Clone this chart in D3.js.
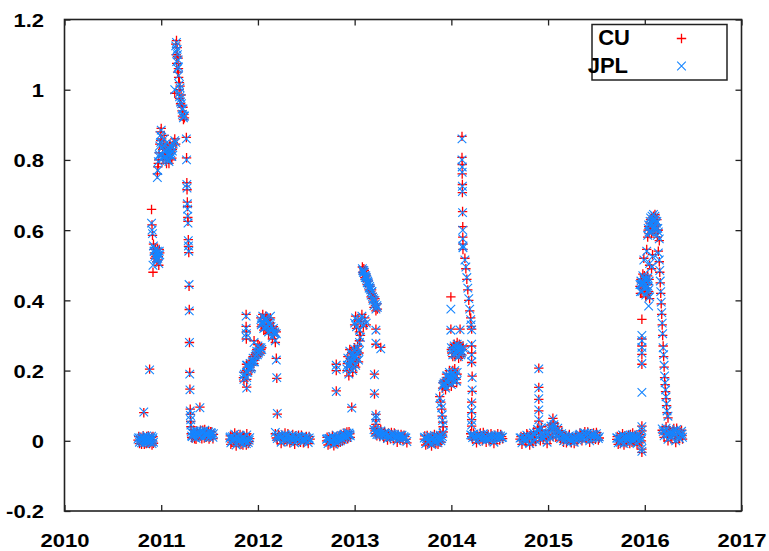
<!DOCTYPE html>
<html>
<head>
<meta charset="utf-8">
<script src="https://cdn.jsdelivr.net/npm/d3@7"></script>
<style>
  body { margin: 0; background: #fff; }
  text { font-family: "Liberation Sans", Arial, sans-serif; font-weight: bold; }
</style>
</head>
<body>
<svg id="chart" width="769" height="551"></svg>
<script>
// Axis ticks and labels
const xTicks = [2010, 2011, 2012, 2013, 2014, 2015, 2016, 2017];
const xTickLabels = ["2010", "2011", "2012", "2013", "2014", "2015", "2016", "2017"];
const yTicks = [-0.2, 0, 0.2, 0.4, 0.6, 0.8, 1, 1.2];
const yTickLabels = ["-0.2", "0", "0.2", "0.4", "0.6", "0.8", "1", "1.2"];
const seriesNames = ["CU", "JPL"];

// CU series: [decimal year, value]
const cuPoints = [
  // autumn 2010 - spring 2011
  [2010.76,0.002],[2010.775,-0.008],[2010.79,0.010],[2010.80,-0.002],[2010.81,0.006],[2010.82,0.080],[2010.825,-0.010],[2010.84,0.004],[2010.85,0.012],[2010.86,-0.006],[2010.875,0.008],[2010.88,0.204],[2010.885,-0.004],[2010.90,0.010],[2010.91,0.000],[2010.92,-0.007],
  [2010.768,0.012],[2010.783,0.0],[2010.797,-0.01],[2010.815,0.014],[2010.832,0.006],[2010.845,-0.008],[2010.855,0.002],[2010.868,0.014],[2010.88,-0.008],[2010.895,0.004],[2010.905,-0.012],[2010.915,0.012],
  [2010.90,0.659],[2010.905,0.615],[2010.91,0.585],[2010.915,0.48],[2010.92,0.56],[2010.93,0.535],[2010.935,0.52],[2010.94,0.55],[2010.95,0.53],[2010.955,0.51],[2010.96,0.545],[2010.97,0.525],[2010.975,0.50],[2010.985,0.535],
  [2010.925,0.545],[2010.945,0.525],[2010.965,0.515],[2010.98,0.545],
  [2010.96,0.76],[2010.965,0.78],[2010.975,0.80],[2010.985,0.845],[2010.99,0.88],[2011.0,0.89],[2011.005,0.86],[2011.015,0.83],[2011.02,0.80],[2011.03,0.87],[2011.04,0.84],[2011.045,0.815],[2011.055,0.79],[2011.065,0.82],[2011.075,0.805],[2011.085,0.835],[2011.095,0.82],[2011.105,0.80],[2011.115,0.83],[2011.125,0.85],[2011.14,0.86],[2011.15,0.845],
  [2010.97,0.79],[2010.98,0.82],[2010.995,0.855],[2011.01,0.81],[2011.025,0.845],[2011.035,0.82],[2011.05,0.80],[2011.06,0.835],[2011.07,0.81],[2011.08,0.79],[2011.09,0.845],[2011.10,0.825],[2011.11,0.805],[2011.12,0.84],
  [2011.14,0.99],[2011.15,1.13],[2011.155,1.10],[2011.16,1.075],[2011.165,1.12],[2011.17,1.05],[2011.175,1.09],[2011.18,1.035],[2011.185,1.00],[2011.19,0.975],[2011.195,1.01],[2011.20,0.96],[2011.205,0.985],[2011.215,0.94],[2011.22,0.925],[2011.225,0.95],[2011.23,0.915],
  [2011.158,1.14],[2011.168,1.095],[2011.178,1.06],[2011.188,1.02],[2011.21,0.955],[2011.235,0.93],[2011.24,0.92],
  [2011.26,0.864],[2011.262,0.806],[2011.265,0.735],[2011.267,0.715],[2011.27,0.68],[2011.272,0.667],[2011.275,0.636],[2011.277,0.625],[2011.28,0.573],[2011.282,0.554],[2011.285,0.536],[2011.288,0.44],[2011.29,0.374],[2011.292,0.28],[2011.295,0.195],[2011.297,0.147],[2011.30,0.09],[2011.302,0.075],[2011.305,0.055],[2011.307,0.04],[2011.40,0.096],
  [2011.31,0.02],[2011.32,0.008],[2011.335,0.03],[2011.35,0.015],[2011.36,0.004],[2011.375,0.025],[2011.39,0.012],[2011.405,0.03],[2011.42,0.006],[2011.435,0.02],[2011.45,0.032],[2011.465,0.01],[2011.48,0.022],[2011.495,0.005],[2011.51,0.026],[2011.525,0.014],[2011.54,0.018],
  [2011.315,0.01],[2011.33,0.018],[2011.345,0.006],[2011.365,0.028],[2011.385,0.02],[2011.41,0.014],[2011.43,0.03],[2011.445,0.008],[2011.46,0.024],[2011.475,0.012],[2011.49,0.028],[2011.505,0.01],[2011.52,0.025],[2011.535,0.006],
  // autumn 2011 - spring 2012
  [2011.71,0.005],[2011.72,-0.01],[2011.735,0.015],[2011.75,-0.003],[2011.76,0.022],[2011.775,-0.015],[2011.79,0.008],[2011.80,-0.006],[2011.815,0.018],[2011.83,0.0],[2011.845,-0.012],[2011.855,0.012],[2011.87,-0.004],[2011.885,0.02],[2011.90,-0.008],[2011.915,0.006],
  [2011.715,0.014],[2011.73,-0.004],[2011.745,0.01],[2011.765,0.002],[2011.785,0.016],[2011.805,0.008],[2011.825,-0.01],[2011.84,0.014],[2011.865,0.006],[2011.88,-0.012],[2011.895,0.008],[2011.91,-0.002],
  [2011.878,0.36],[2011.878,0.326],[2011.88,0.31],[2011.88,0.29],[2011.882,0.218],[2011.882,0.2],[2011.884,0.175],[2011.884,0.153],
  [2011.85,0.18],[2011.86,0.195],[2011.89,0.21],[2011.905,0.2],[2011.92,0.225],[2011.935,0.215],[2011.95,0.24],[2011.96,0.285],[2011.965,0.23],[2011.98,0.25],[2011.995,0.24],[2012.0,0.275],[2012.01,0.26],[2012.025,0.25],[2012.04,0.265],
  [2011.855,0.17],[2011.895,0.19],[2011.912,0.215],[2011.928,0.2],[2011.942,0.23],[2011.958,0.22],[2011.972,0.245],[2011.988,0.26],[2012.005,0.245],[2012.018,0.27],[2012.032,0.26],
  [2012.03,0.35],[2012.04,0.33],[2012.05,0.36],[2012.06,0.315],[2012.07,0.34],[2012.08,0.355],[2012.09,0.32],[2012.10,0.345],[2012.11,0.305],[2012.12,0.335],[2012.13,0.35],[2012.14,0.31],[2012.15,0.29],[2012.16,0.325],[2012.17,0.30],[2012.18,0.28],[2012.19,0.31],[2012.19,0.235],[2012.195,0.178],[2012.2,0.076],
  [2012.035,0.325],[2012.055,0.34],[2012.075,0.32],[2012.095,0.35],[2012.115,0.33],[2012.135,0.32],[2012.155,0.305],[2012.175,0.315],
  [2012.18,0.02],[2012.20,0.002],[2012.22,0.015],[2012.24,-0.008],[2012.26,0.01],[2012.28,0.022],[2012.30,-0.002],[2012.32,0.012],[2012.34,0.004],[2012.36,0.018],[2012.38,-0.01],[2012.40,0.008],[2012.42,0.016],[2012.44,-0.004],[2012.46,0.01],[2012.48,0.0],[2012.50,0.012],[2012.52,-0.008],[2012.54,0.005],
  [2012.19,0.008],[2012.21,0.018],[2012.23,0.004],[2012.25,0.016],[2012.27,-0.002],[2012.29,0.01],[2012.31,0.02],[2012.33,-0.006],[2012.35,0.006],[2012.37,0.0],[2012.39,0.014],[2012.41,-0.002],[2012.43,0.006],[2012.45,0.016],[2012.47,-0.006],[2012.49,0.008],[2012.51,0.002],[2012.53,0.012],
  // autumn 2012 - spring 2013
  [2012.71,0.0],[2012.725,-0.012],[2012.74,0.01],[2012.755,-0.005],[2012.77,0.015],[2012.785,-0.014],[2012.80,0.005],[2012.815,0.012],[2012.83,-0.006],[2012.845,0.008],[2012.86,0.018],[2012.875,0.0],[2012.89,0.022],[2012.905,0.01],[2012.92,0.025],[2012.935,0.012],[2012.95,0.02],[2012.81,0.218],[2012.81,0.2],[2012.81,0.142],[2012.97,0.096],
  [2012.715,0.01],[2012.732,0.002],[2012.748,-0.008],[2012.762,0.006],[2012.778,0.002],[2012.792,0.008],[2012.808,-0.008],[2012.822,0.004],[2012.838,0.014],[2012.852,-0.004],[2012.868,0.01],[2012.882,0.012],[2012.898,0.004],[2012.912,0.018],[2012.928,0.006],[2012.942,0.026],[2012.955,0.01],
  [2012.92,0.2],[2012.93,0.24],[2012.94,0.185],[2012.95,0.26],[2012.96,0.215],[2012.97,0.25],[2012.98,0.195],[2012.99,0.23],[2013.0,0.265],[2013.01,0.21],[2013.02,0.245],[2013.03,0.27],[2013.04,0.225],[2013.05,0.285],[2013.06,0.30],
  [2012.925,0.22],[2012.945,0.21],[2012.955,0.235],[2012.975,0.225],[2012.985,0.215],[2012.995,0.25],[2013.015,0.235],[2013.025,0.255],[2013.045,0.25],
  [2013.0,0.33],[2013.01,0.355],[2013.02,0.32],[2013.035,0.345],[2013.05,0.31],[2013.06,0.34],[2013.075,0.36],[2013.09,0.325],[2013.105,0.35],[2013.12,0.33],
  [2013.08,0.495],[2013.09,0.475],[2013.10,0.485],[2013.11,0.46],[2013.12,0.47],[2013.13,0.445],[2013.14,0.455],[2013.15,0.43],[2013.16,0.44],[2013.17,0.41],[2013.18,0.42],[2013.19,0.395],[2013.20,0.38],[2013.21,0.405],[2013.22,0.37],[2013.23,0.39],[2013.22,0.318],[2013.22,0.275],[2013.27,0.266],[2013.205,0.19],[2013.205,0.133],[2013.22,0.075],[2013.22,0.06],[2013.22,0.047],
  [2013.085,0.48],[2013.095,0.49],[2013.105,0.465],[2013.115,0.475],[2013.125,0.455],[2013.135,0.46],[2013.145,0.44],[2013.155,0.445],[2013.165,0.425],[2013.175,0.43],[2013.185,0.405],[2013.195,0.41],[2013.215,0.385],[2013.235,0.375],
  [2013.2,0.035],[2013.22,0.02],[2013.24,0.03],[2013.26,0.012],[2013.28,0.025],[2013.30,0.008],[2013.32,0.018],[2013.34,0.002],[2013.36,0.015],[2013.38,0.024],[2013.40,0.006],[2013.42,0.016],[2013.44,-0.004],[2013.46,0.01],[2013.48,0.018],[2013.50,0.002],[2013.52,0.012],[2013.54,-0.006],
  [2013.21,0.028],[2013.23,0.014],[2013.25,0.022],[2013.27,0.032],[2013.29,0.014],[2013.31,0.026],[2013.33,0.01],[2013.35,0.022],[2013.37,0.006],[2013.39,0.014],[2013.41,0.022],[2013.43,0.008],[2013.45,0.018],[2013.47,0.002],[2013.49,0.012],[2013.51,0.016],[2013.53,0.004],
  // autumn 2013 - spring 2014
  [2013.72,0.005],[2013.735,-0.012],[2013.75,0.015],[2013.765,-0.004],[2013.78,0.01],[2013.795,-0.015],[2013.81,0.002],[2013.825,0.018],[2013.84,-0.008],[2013.855,0.008],[2013.87,-0.002],[2013.885,0.02],[2013.90,0.01],[2013.915,0.025],
  [2013.725,0.014],[2013.742,0.002],[2013.758,-0.008],[2013.772,0.006],[2013.788,0.0],[2013.802,0.012],[2013.818,-0.006],[2013.832,0.008],[2013.848,0.014],[2013.862,-0.01],[2013.878,0.006],[2013.892,-0.004],[2013.908,0.016],
  [2013.88,0.126],[2013.89,0.11],[2013.9,0.09],[2013.905,0.07],[2013.91,0.053],[2013.915,0.04],
  [2013.91,0.15],[2013.925,0.17],[2013.94,0.145],[2013.95,0.19],[2013.965,0.16],[2013.98,0.2],[2013.99,0.175],[2014.0,0.155],[2014.01,0.185],[2014.02,0.165],[2014.035,0.205],[2014.05,0.175],[2014.06,0.19],
  [2013.915,0.165],[2013.93,0.155],[2013.945,0.175],[2013.96,0.18],[2013.975,0.17],[2013.985,0.19],[2014.005,0.17],[2014.015,0.2],[2014.03,0.18],[2014.045,0.19],[2014.055,0.165],
  [2013.995,0.318],[2013.995,0.41],[2014.09,0.318],
  [2014.0,0.26],[2014.015,0.24],[2014.03,0.275],[2014.045,0.25],[2014.06,0.28],[2014.075,0.235],[2014.09,0.265],[2014.105,0.245],[2014.12,0.27],
  [2014.005,0.25],[2014.022,0.265],[2014.038,0.24],[2014.052,0.27],[2014.068,0.255],[2014.082,0.275],[2014.098,0.24],[2014.112,0.26],
  [2014.11,0.867],[2014.11,0.807],[2014.112,0.787],[2014.112,0.76],[2014.114,0.73],[2014.114,0.707],[2014.116,0.653],[2014.118,0.61],[2014.118,0.58],[2014.12,0.56],[2014.12,0.545],
  [2014.14,0.52],[2014.15,0.49],[2014.16,0.46],[2014.17,0.43],[2014.18,0.40],[2014.19,0.37],[2014.2,0.35],[2014.205,0.326],[2014.21,0.318],[2014.21,0.27],[2014.21,0.25],[2014.21,0.223],[2014.215,0.184],[2014.215,0.141],[2014.21,0.11],[2014.21,0.08],[2014.21,0.06],[2014.21,0.042],
  [2014.2,0.02],[2014.22,0.005],[2014.24,0.015],[2014.26,-0.006],[2014.28,0.01],[2014.30,0.022],[2014.32,0.0],[2014.34,0.012],[2014.36,-0.004],[2014.38,0.018],[2014.40,0.006],[2014.42,0.014],[2014.44,-0.008],[2014.46,0.01],[2014.48,0.02],[2014.50,0.002],[2014.52,0.012],
  [2014.21,0.012],[2014.23,0.022],[2014.25,0.004],[2014.27,0.018],[2014.29,0.002],[2014.31,0.014],[2014.33,0.024],[2014.35,0.006],[2014.37,0.01],[2014.39,0.0],[2014.41,0.02],[2014.43,0.004],[2014.45,0.016],[2014.47,0.002],[2014.49,0.01],[2014.51,0.018],[2014.53,0.006],
  // autumn 2014 - summer 2015
  [2014.71,0.005],[2014.73,-0.01],[2014.75,0.012],[2014.77,-0.004],[2014.79,0.016],[2014.81,-0.012],[2014.83,0.008],[2014.85,0.025],[2014.87,-0.002],[2014.89,0.035],[2014.91,0.01],[2014.93,0.04],[2014.95,0.005],[2014.97,0.02],[2014.99,-0.008],[2015.01,0.03],[2015.03,0.045],[2015.05,0.012],[2015.07,0.035],[2015.09,0.02],[2015.11,0.028],[2015.13,0.002],[2015.15,0.018],[2015.17,0.008],[2015.19,-0.006],[2015.21,0.012],[2015.23,0.0],[2015.25,0.01],[2015.27,-0.008],[2015.29,0.015],[2015.31,0.005],[2015.33,0.022],[2015.35,0.0],[2015.37,0.018],[2015.39,0.008],[2015.41,0.025],[2015.43,-0.004],[2015.45,0.014],[2015.47,0.022],[2015.49,0.004],[2015.51,0.016],[2015.53,0.008],
  [2014.72,0.012],[2014.74,0.0],[2014.76,0.006],[2014.78,0.02],[2014.80,0.004],[2014.82,0.016],[2014.84,-0.006],[2014.86,0.012],[2014.88,0.018],[2014.90,0.026],[2014.92,0.0],[2014.94,0.028],[2014.96,0.014],[2014.98,0.008],[2015.00,0.016],[2015.02,0.006],[2015.04,0.03],[2015.06,0.05],[2015.08,0.01],[2015.10,0.04],[2015.12,0.014],[2015.14,0.024],[2015.16,-0.004],[2015.18,0.014],[2015.20,0.004],[2015.22,0.018],[2015.24,-0.006],[2015.26,0.004],[2015.28,0.01],[2015.30,-0.002],[2015.32,0.012],[2015.34,0.016],[2015.36,0.008],[2015.38,0.026],[2015.40,0.012],[2015.42,0.006],[2015.44,0.02],[2015.46,0.004],[2015.48,0.012],[2015.50,0.024],[2015.52,0.002],
  [2014.904,0.207],[2014.904,0.152],[2014.904,0.118],[2014.904,0.085],[2014.904,0.056],[2015.05,0.064],
  // autumn 2015 - spring 2016
  [2015.71,0.004],[2015.725,-0.01],[2015.74,0.014],[2015.755,-0.003],[2015.77,0.02],[2015.785,-0.012],[2015.80,0.008],[2015.815,0.0],[2015.83,0.016],[2015.845,-0.008],[2015.86,0.01],[2015.875,0.022],[2015.89,-0.002],[2015.905,0.012],[2015.92,-0.012],[2015.935,0.006],[2015.95,0.018],[2015.965,0.0],
  [2015.715,0.012],[2015.732,0.002],[2015.748,-0.008],[2015.762,0.01],[2015.778,0.004],[2015.792,0.014],[2015.808,-0.006],[2015.822,0.008],[2015.838,0.002],[2015.852,0.018],[2015.868,-0.004],[2015.882,0.008],[2015.898,0.016],[2015.912,0.002],[2015.928,0.012],[2015.942,-0.006],[2015.958,0.01],
  [2015.97,0.042],[2015.97,0.028],[2015.97,-0.024],[2015.97,-0.033],
  [2015.97,0.346],[2015.97,0.29],[2015.97,0.27],[2015.97,0.246],[2015.97,0.218],
  [2015.95,0.44],[2015.96,0.46],[2015.97,0.42],[2015.98,0.475],[2015.99,0.435],[2016.0,0.455],[2016.01,0.41],[2016.02,0.445],[2016.03,0.47],[2016.04,0.425],[2016.05,0.405],
  [2015.955,0.42],[2015.965,0.45],[2015.975,0.44],[2015.985,0.455],[2015.995,0.47],[2016.005,0.43],[2016.015,0.46],[2016.025,0.42],[2016.035,0.445],[2016.045,0.46],
  [2015.99,0.52],[2016.02,0.545],[2016.05,0.5],[2016.08,0.53],[2016.07,0.49],
  [2016.03,0.58],[2016.04,0.61],[2016.05,0.6],[2016.06,0.63],[2016.07,0.59],[2016.08,0.62],[2016.09,0.64],[2016.10,0.605],[2016.11,0.635],[2016.12,0.615],[2016.13,0.58],[2016.14,0.6],[2016.15,0.57],
  [2016.035,0.6],[2016.045,0.59],[2016.055,0.62],[2016.065,0.61],[2016.075,0.635],[2016.085,0.6],[2016.095,0.625],[2016.105,0.645],[2016.115,0.6],[2016.125,0.63],[2016.135,0.6],
  [2016.14,0.54],[2016.15,0.51],[2016.155,0.48],[2016.16,0.45],[2016.165,0.42],[2016.17,0.39],[2016.175,0.36],[2016.18,0.33],[2016.185,0.30],[2016.19,0.27],[2016.195,0.24],[2016.2,0.21],[2016.205,0.18],[2016.21,0.16],[2016.215,0.14],[2016.22,0.12],[2016.225,0.10],[2016.23,0.08],[2016.24,0.065],
  [2016.18,0.03],[2016.2,0.01],[2016.22,0.04],[2016.24,0.0],[2016.26,0.025],[2016.28,0.015],[2016.30,0.035],[2016.32,-0.005],[2016.34,0.02],[2016.36,0.01],[2016.38,0.03],[2016.39,0.005],
  [2016.19,0.022],[2016.21,0.032],[2016.23,0.012],[2016.25,0.03],[2016.27,0.006],[2016.29,0.028],[2016.31,0.012],[2016.33,0.036],[2016.35,0.006],[2016.37,0.022],[2016.385,0.015]
];

// JPL series: [decimal year, value]
const jplPoints = [
  // autumn 2010 - spring 2011
  [2010.76,0.005],[2010.775,-0.004],[2010.79,0.008],[2010.80,0.001],[2010.81,0.009],[2010.82,0.082],[2010.825,-0.006],[2010.84,0.002],[2010.85,0.014],[2010.86,-0.003],[2010.875,0.005],[2010.88,0.202],[2010.885,0.000],[2010.90,0.013],[2010.91,0.004],[2010.92,-0.004],
  [2010.768,0.009],[2010.783,0.004],[2010.797,-0.006],[2010.815,0.011],[2010.832,0.002],[2010.845,-0.004],[2010.855,0.006],[2010.868,0.01],[2010.88,-0.004],[2010.895,0.008],[2010.905,-0.008],[2010.915,0.009],
  [2010.90,0.62],[2010.905,0.60],[2010.91,0.59],[2010.915,0.50],[2010.92,0.555],[2010.93,0.54],[2010.935,0.525],[2010.94,0.545],[2010.95,0.52],[2010.955,0.515],[2010.96,0.54],[2010.97,0.53],[2010.975,0.505],[2010.985,0.53],
  [2010.925,0.54],[2010.945,0.53],[2010.965,0.52],[2010.98,0.54],
  [2010.96,0.75],[2010.965,0.77],[2010.975,0.81],[2010.985,0.84],[2010.99,0.87],[2011.0,0.885],[2011.005,0.865],[2011.015,0.835],[2011.02,0.805],[2011.03,0.86],[2011.04,0.845],[2011.045,0.81],[2011.055,0.80],[2011.065,0.83],[2011.075,0.80],[2011.085,0.83],[2011.095,0.815],[2011.105,0.81],[2011.115,0.825],[2011.125,0.845],[2011.14,0.855],[2011.15,0.85],
  [2010.97,0.795],[2010.98,0.815],[2010.995,0.85],[2011.01,0.815],[2011.025,0.84],[2011.035,0.825],[2011.05,0.805],[2011.06,0.83],[2011.07,0.815],[2011.08,0.795],[2011.09,0.84],[2011.10,0.82],[2011.11,0.81],[2011.12,0.835],
  [2011.14,1.0],[2011.15,1.125],[2011.155,1.11],[2011.16,1.08],[2011.165,1.115],[2011.17,1.06],[2011.175,1.085],[2011.18,1.04],[2011.185,0.99],[2011.19,0.98],[2011.195,1.005],[2011.20,0.965],[2011.205,0.975],[2011.215,0.945],[2011.22,0.93],[2011.225,0.945],[2011.23,0.92],
  [2011.158,1.135],[2011.168,1.1],[2011.178,1.065],[2011.188,1.015],[2011.21,0.96],[2011.235,0.925],[2011.24,0.925],
  [2011.26,0.86],[2011.262,0.80],[2011.265,0.73],[2011.267,0.72],[2011.27,0.675],[2011.272,0.66],[2011.275,0.64],[2011.277,0.62],[2011.28,0.57],[2011.282,0.555],[2011.285,0.54],[2011.288,0.445],[2011.29,0.37],[2011.292,0.28],[2011.295,0.19],[2011.297,0.145],[2011.30,0.085],[2011.302,0.072],[2011.305,0.06],[2011.307,0.045],[2011.40,0.094],
  [2011.31,0.025],[2011.32,0.012],[2011.335,0.028],[2011.35,0.018],[2011.36,0.007],[2011.375,0.022],[2011.39,0.016],[2011.405,0.027],[2011.42,0.01],[2011.435,0.024],[2011.45,0.03],[2011.465,0.014],[2011.48,0.018],[2011.495,0.009],[2011.51,0.023],[2011.525,0.017],[2011.54,0.02],
  [2011.315,0.014],[2011.33,0.022],[2011.345,0.01],[2011.365,0.025],[2011.385,0.016],[2011.41,0.018],[2011.43,0.027],[2011.445,0.012],[2011.46,0.02],[2011.475,0.016],[2011.49,0.025],[2011.505,0.014],[2011.52,0.022],[2011.535,0.01],
  // autumn 2011 - spring 2012
  [2011.71,0.008],[2011.72,-0.006],[2011.735,0.012],[2011.75,0.001],[2011.76,0.019],[2011.775,-0.012],[2011.79,0.011],[2011.80,-0.002],[2011.815,0.015],[2011.83,0.004],[2011.845,-0.008],[2011.855,0.01],[2011.87,0.0],[2011.885,0.017],[2011.90,-0.005],[2011.915,0.009],
  [2011.715,0.011],[2011.73,0.0],[2011.745,0.007],[2011.765,0.006],[2011.785,0.012],[2011.805,0.004],[2011.825,-0.006],[2011.84,0.01],[2011.865,0.002],[2011.88,-0.008],[2011.895,0.004],[2011.91,0.002],
  [2011.878,0.355],[2011.878,0.32],[2011.88,0.305],[2011.88,0.295],[2011.882,0.215],[2011.882,0.195],[2011.884,0.18],[2011.884,0.15],
  [2011.85,0.185],[2011.86,0.19],[2011.89,0.215],[2011.905,0.205],[2011.92,0.22],[2011.935,0.21],[2011.95,0.235],[2011.96,0.28],[2011.965,0.225],[2011.98,0.245],[2011.995,0.245],[2012.0,0.27],[2012.01,0.255],[2012.025,0.255],[2012.04,0.26],
  [2011.855,0.175],[2011.895,0.195],[2011.912,0.21],[2011.928,0.205],[2011.942,0.225],[2011.958,0.225],[2011.972,0.24],[2011.988,0.255],[2012.005,0.25],[2012.018,0.265],[2012.032,0.265],
  [2012.03,0.345],[2012.04,0.335],[2012.05,0.355],[2012.06,0.32],[2012.07,0.345],[2012.08,0.35],[2012.09,0.325],[2012.10,0.34],[2012.11,0.31],[2012.12,0.33],[2012.13,0.355],[2012.14,0.315],[2012.15,0.295],[2012.16,0.32],[2012.17,0.305],[2012.18,0.285],[2012.19,0.305],[2012.19,0.23],[2012.195,0.18],[2012.2,0.078],
  [2012.035,0.33],[2012.055,0.335],[2012.075,0.325],[2012.095,0.345],[2012.115,0.335],[2012.135,0.325],[2012.155,0.31],[2012.175,0.31],
  [2012.18,0.024],[2012.20,0.006],[2012.22,0.012],[2012.24,-0.004],[2012.26,0.014],[2012.28,0.018],[2012.30,0.002],[2012.32,0.009],[2012.34,0.008],[2012.36,0.015],[2012.38,-0.006],[2012.40,0.011],[2012.42,0.013],[2012.44,0.0],[2012.46,0.006],[2012.48,0.004],[2012.50,0.009],[2012.52,-0.005],[2012.54,0.002],
  [2012.19,0.012],[2012.21,0.014],[2012.23,0.008],[2012.25,0.012],[2012.27,0.002],[2012.29,0.014],[2012.31,0.016],[2012.33,-0.002],[2012.35,0.01],[2012.37,0.004],[2012.39,0.01],[2012.41,0.002],[2012.43,0.01],[2012.45,0.012],[2012.47,-0.002],[2012.49,0.012],[2012.51,0.006],[2012.53,0.008],
  // autumn 2012 - spring 2013
  [2012.71,0.004],[2012.725,-0.008],[2012.74,0.007],[2012.755,-0.002],[2012.77,0.012],[2012.785,-0.01],[2012.80,0.008],[2012.815,0.015],[2012.83,-0.002],[2012.845,0.011],[2012.86,0.015],[2012.875,0.004],[2012.89,0.019],[2012.905,0.013],[2012.92,0.022],[2012.935,0.016],[2012.95,0.018],[2012.81,0.215],[2012.81,0.203],[2012.81,0.14],[2012.97,0.093],
  [2012.715,0.006],[2012.732,0.006],[2012.748,-0.004],[2012.762,0.002],[2012.778,0.006],[2012.792,0.004],[2012.808,-0.004],[2012.822,0.008],[2012.838,0.01],[2012.852,0.0],[2012.868,0.006],[2012.882,0.016],[2012.898,0.008],[2012.912,0.014],[2012.928,0.01],[2012.942,0.022],[2012.955,0.014],
  [2012.92,0.205],[2012.93,0.235],[2012.94,0.19],[2012.95,0.255],[2012.96,0.22],[2012.97,0.245],[2012.98,0.2],[2012.99,0.235],[2013.0,0.26],[2013.01,0.215],[2013.02,0.24],[2013.03,0.265],[2013.04,0.23],[2013.05,0.28],[2013.06,0.295],
  [2012.925,0.215],[2012.945,0.215],[2012.955,0.23],[2012.975,0.23],[2012.985,0.21],[2012.995,0.245],[2013.015,0.24],[2013.025,0.25],[2013.045,0.255],
  [2013.0,0.335],[2013.01,0.35],[2013.02,0.325],[2013.035,0.34],[2013.05,0.315],[2013.06,0.345],[2013.075,0.355],[2013.09,0.33],[2013.105,0.345],[2013.12,0.335],
  [2013.08,0.49],[2013.09,0.48],[2013.10,0.48],[2013.11,0.465],[2013.12,0.465],[2013.13,0.45],[2013.14,0.45],[2013.15,0.435],[2013.16,0.435],[2013.17,0.415],[2013.18,0.425],[2013.19,0.40],[2013.20,0.385],[2013.21,0.40],[2013.22,0.375],[2013.23,0.385],[2013.22,0.315],[2013.22,0.278],[2013.27,0.262],[2013.205,0.188],[2013.205,0.135],[2013.22,0.072],[2013.22,0.065],[2013.22,0.05],
  [2013.085,0.485],[2013.095,0.485],[2013.105,0.47],[2013.115,0.47],[2013.125,0.46],[2013.135,0.455],[2013.145,0.445],[2013.155,0.44],[2013.165,0.43],[2013.175,0.425],[2013.185,0.41],[2013.195,0.405],[2013.215,0.39],[2013.235,0.38],
  [2013.2,0.032],[2013.22,0.024],[2013.24,0.027],[2013.26,0.016],[2013.28,0.022],[2013.30,0.012],[2013.32,0.021],[2013.34,0.006],[2013.36,0.012],[2013.38,0.02],[2013.40,0.01],[2013.42,0.013],[2013.44,0.0],[2013.46,0.014],[2013.48,0.015],[2013.50,0.006],[2013.52,0.009],[2013.54,-0.002],
  [2013.21,0.024],[2013.23,0.018],[2013.25,0.018],[2013.27,0.028],[2013.29,0.018],[2013.31,0.022],[2013.33,0.014],[2013.35,0.018],[2013.37,0.01],[2013.39,0.018],[2013.41,0.018],[2013.43,0.012],[2013.45,0.014],[2013.47,0.006],[2013.49,0.016],[2013.51,0.012],[2013.53,0.008],
  // autumn 2013 - spring 2014
  [2013.72,0.008],[2013.735,-0.008],[2013.75,0.012],[2013.765,0.0],[2013.78,0.013],[2013.795,-0.011],[2013.81,0.006],[2013.825,0.015],[2013.84,-0.004],[2013.855,0.011],[2013.87,0.002],[2013.885,0.016],[2013.90,0.006],[2013.915,0.022],
  [2013.725,0.01],[2013.742,0.006],[2013.758,-0.004],[2013.772,0.002],[2013.788,0.004],[2013.802,0.008],[2013.818,-0.002],[2013.832,0.004],[2013.848,0.01],[2013.862,-0.006],[2013.878,0.01],[2013.892,0.0],[2013.908,0.012],
  [2013.88,0.122],[2013.89,0.106],[2013.9,0.094],[2013.905,0.074],[2013.91,0.058],[2013.915,0.045],
  [2013.91,0.155],[2013.925,0.165],[2013.94,0.15],[2013.95,0.185],[2013.965,0.165],[2013.98,0.195],[2013.99,0.18],[2014.0,0.16],[2014.01,0.19],[2014.02,0.17],[2014.035,0.2],[2014.05,0.17],[2014.06,0.195],
  [2013.915,0.16],[2013.93,0.16],[2013.945,0.17],[2013.96,0.185],[2013.975,0.175],[2013.985,0.185],[2014.005,0.175],[2014.015,0.195],[2014.03,0.185],[2014.045,0.185],[2014.055,0.17],
  [2013.995,0.315],[2013.995,0.375],[2014.09,0.316],
  [2014.0,0.265],[2014.015,0.245],[2014.03,0.27],[2014.045,0.255],[2014.06,0.275],[2014.075,0.24],[2014.09,0.26],[2014.105,0.25],[2014.12,0.265],
  [2014.005,0.255],[2014.022,0.26],[2014.038,0.245],[2014.052,0.265],[2014.068,0.26],[2014.082,0.27],[2014.098,0.245],[2014.112,0.255],
  [2014.11,0.86],[2014.11,0.80],[2014.112,0.78],[2014.112,0.765],[2014.114,0.725],[2014.114,0.71],[2014.116,0.65],[2014.118,0.60],[2014.118,0.575],[2014.12,0.555],[2014.12,0.55],
  [2014.14,0.515],[2014.15,0.495],[2014.16,0.465],[2014.17,0.435],[2014.18,0.405],[2014.19,0.375],[2014.2,0.345],[2014.205,0.33],[2014.21,0.316],[2014.21,0.275],[2014.21,0.245],[2014.21,0.225],[2014.215,0.18],[2014.215,0.145],[2014.21,0.108],[2014.21,0.085],[2014.21,0.058],[2014.21,0.045],
  [2014.2,0.017],[2014.22,0.009],[2014.24,0.012],[2014.26,-0.002],[2014.28,0.014],[2014.30,0.018],[2014.32,0.004],[2014.34,0.009],[2014.36,0.0],[2014.38,0.015],[2014.40,0.01],[2014.42,0.011],[2014.44,-0.004],[2014.46,0.013],[2014.48,0.017],[2014.50,0.006],[2014.52,0.009],
  [2014.21,0.016],[2014.23,0.018],[2014.25,0.008],[2014.27,0.014],[2014.29,0.006],[2014.31,0.01],[2014.33,0.02],[2014.35,0.01],[2014.37,0.006],[2014.39,0.004],[2014.41,0.016],[2014.43,0.008],[2014.45,0.012],[2014.47,0.006],[2014.49,0.014],[2014.51,0.014],[2014.53,0.01],
  // autumn 2014 - summer 2015
  [2014.71,0.008],[2014.73,-0.006],[2014.75,0.009],[2014.77,0.0],[2014.79,0.013],[2014.81,-0.008],[2014.83,0.012],[2014.85,0.022],[2014.87,0.002],[2014.89,0.032],[2014.91,0.014],[2014.93,0.037],[2014.95,0.009],[2014.97,0.024],[2014.99,-0.004],[2015.01,0.034],[2015.03,0.042],[2015.05,0.015],[2015.07,0.038],[2015.09,0.017],[2015.11,0.025],[2015.13,0.006],[2015.15,0.015],[2015.17,0.012],[2015.19,-0.002],[2015.21,0.009],[2015.23,0.004],[2015.25,0.014],[2015.27,-0.004],[2015.29,0.012],[2015.31,0.009],[2015.33,0.019],[2015.35,0.004],[2015.37,0.022],[2015.39,0.005],[2015.41,0.021],[2015.43,0.0],[2015.45,0.018],[2015.47,0.019],[2015.49,0.008],[2015.51,0.012],[2015.53,0.011],
  [2014.72,0.009],[2014.74,0.004],[2014.76,0.01],[2014.78,0.016],[2014.80,0.008],[2014.82,0.012],[2014.84,-0.002],[2014.86,0.016],[2014.88,0.022],[2014.90,0.03],[2014.92,0.004],[2014.94,0.024],[2014.96,0.018],[2014.98,0.012],[2015.00,0.02],[2015.02,0.01],[2015.04,0.034],[2015.06,0.046],[2015.08,0.014],[2015.10,0.036],[2015.12,0.018],[2015.14,0.02],[2015.16,0.0],[2015.18,0.01],[2015.20,0.008],[2015.22,0.014],[2015.24,-0.002],[2015.26,0.008],[2015.28,0.006],[2015.30,0.002],[2015.32,0.016],[2015.34,0.012],[2015.36,0.012],[2015.38,0.022],[2015.40,0.016],[2015.42,0.01],[2015.44,0.016],[2015.46,0.008],[2015.48,0.016],[2015.50,0.02],[2015.52,0.006],
  [2014.904,0.205],[2014.904,0.15],[2014.904,0.12],[2014.904,0.088],[2014.904,0.06],[2015.05,0.062],
  // autumn 2015 - spring 2016
  [2015.71,0.008],[2015.725,-0.006],[2015.74,0.011],[2015.755,0.001],[2015.77,0.017],[2015.785,-0.008],[2015.80,0.012],[2015.815,0.004],[2015.83,0.013],[2015.845,-0.004],[2015.86,0.014],[2015.875,0.018],[2015.89,0.002],[2015.905,0.009],[2015.92,-0.008],[2015.935,0.01],[2015.95,0.015],[2015.965,0.004],
  [2015.715,0.008],[2015.732,0.006],[2015.748,-0.004],[2015.762,0.006],[2015.778,0.008],[2015.792,0.01],[2015.808,-0.002],[2015.822,0.012],[2015.838,0.006],[2015.852,0.014],[2015.868,0.0],[2015.882,0.012],[2015.898,0.012],[2015.912,0.006],[2015.928,0.008],[2015.942,-0.002],[2015.958,0.006],
  [2015.97,0.04],[2015.97,0.03],[2015.97,-0.022],[2015.97,-0.03],
  [2015.97,0.138],[2015.97,0.30],[2015.97,0.285],[2015.97,0.266],[2015.97,0.25],[2015.97,0.22],
  [2015.95,0.445],[2015.96,0.455],[2015.97,0.425],[2015.98,0.47],[2015.99,0.44],[2016.0,0.46],[2016.01,0.415],[2016.02,0.44],[2016.03,0.465],[2016.04,0.43],[2016.05,0.41],[2016.04,0.384],
  [2015.955,0.425],[2015.965,0.445],[2015.975,0.445],[2015.985,0.45],[2015.995,0.465],[2016.005,0.435],[2016.015,0.455],[2016.025,0.425],[2016.035,0.44],[2016.045,0.455],
  [2015.99,0.515],[2016.02,0.54],[2016.05,0.505],[2016.08,0.525],[2016.07,0.495],
  [2016.03,0.585],[2016.04,0.615],[2016.05,0.595],[2016.06,0.635],[2016.07,0.595],[2016.08,0.625],[2016.09,0.645],[2016.10,0.61],[2016.11,0.63],[2016.12,0.62],[2016.13,0.585],[2016.14,0.595],[2016.15,0.575],
  [2016.035,0.605],[2016.045,0.595],[2016.055,0.625],[2016.065,0.615],[2016.075,0.64],[2016.085,0.605],[2016.095,0.63],[2016.105,0.64],[2016.115,0.605],[2016.125,0.625],[2016.135,0.605],
  [2016.14,0.535],[2016.15,0.515],[2016.155,0.485],[2016.16,0.455],[2016.165,0.425],[2016.17,0.395],[2016.175,0.365],[2016.18,0.335],[2016.185,0.305],[2016.19,0.265],[2016.195,0.245],[2016.2,0.215],[2016.205,0.185],[2016.21,0.165],[2016.215,0.145],[2016.22,0.125],[2016.225,0.105],[2016.23,0.085],[2016.24,0.07],
  [2016.18,0.034],[2016.2,0.014],[2016.22,0.036],[2016.24,0.004],[2016.26,0.022],[2016.28,0.018],[2016.30,0.03],[2016.32,0.0],[2016.34,0.024],[2016.36,0.006],[2016.38,0.027],[2016.39,0.01],
  [2016.19,0.026],[2016.21,0.028],[2016.23,0.016],[2016.25,0.026],[2016.27,0.01],[2016.29,0.024],[2016.31,0.016],[2016.33,0.032],[2016.35,0.01],[2016.37,0.018],[2016.385,0.019]
];

const svg = d3.select("#chart");
const plot = { left: 64.5, right: 741.5, top: 19.5, bottom: 511 };
const x = d3.scaleLinear().domain([2010, 2017]).range([plot.left, plot.right]);
const y = d3.scaleLinear().domain([-0.2, 1.2]).range([plot.bottom, plot.top]);

const red = "#ff0000";
const blue = "#1585ff";
const plusPath = "M-4.7,0H4.7M0,-4.7V4.7";
const crossPath = "M-4.3,-4.3L4.3,4.3M-4.3,4.3L4.3,-4.3";
const tickLen = 6;
const frameColor = "#222";

// Inward ticks on all four sides
function styleAxis(g) {
  g.select(".domain").remove();
  g.selectAll(".tick line").attr("stroke", frameColor).attr("stroke-width", 1.3);
}

svg.append("g")
  .attr("transform", `translate(0,${plot.bottom})`)
  .call(d3.axisBottom(x).tickValues(xTicks).tickFormat((d, i) => xTickLabels[i])
    .tickSizeInner(-tickLen).tickSizeOuter(0))
  .call(styleAxis)
  .call(g => g.selectAll(".tick text")
    .attr("y", 0).attr("dy", "0.36em")
    .attr("transform", "translate(0,29) scale(1,0.87)")
    .attr("fill", "#000").attr("font-size", 22)
    .attr("font-family", "Liberation Sans, Arial, sans-serif").attr("font-weight", "bold"));

svg.append("g")
  .attr("transform", `translate(0,${plot.top})`)
  .call(d3.axisTop(x).tickValues(xTicks).tickFormat("").tickSizeInner(-tickLen).tickSizeOuter(0))
  .call(styleAxis);

svg.append("g")
  .attr("transform", `translate(${plot.left},0)`)
  .call(d3.axisLeft(y).tickValues(yTicks).tickFormat((d, i) => yTickLabels[i])
    .tickSizeInner(-tickLen).tickSizeOuter(0))
  .call(styleAxis)
  .call(g => g.selectAll(".tick text")
    .attr("x", -20.5).attr("y", 0).attr("dy", "0.36em")
    .attr("transform", "scale(1,0.87)")
    .attr("text-anchor", "end")
    .attr("fill", "#000").attr("font-size", 22)
    .attr("font-family", "Liberation Sans, Arial, sans-serif").attr("font-weight", "bold"));

svg.append("g")
  .attr("transform", `translate(${plot.right},0)`)
  .call(d3.axisRight(y).tickValues(yTicks).tickFormat("").tickSizeInner(-tickLen).tickSizeOuter(0))
  .call(styleAxis);

// Plot frame
svg.append("rect")
  .attr("x", plot.left).attr("y", plot.top)
  .attr("width", plot.right - plot.left).attr("height", plot.bottom - plot.top)
  .attr("fill", "none").attr("stroke", frameColor).attr("stroke-width", 1.6);

// Data markers: CU first, JPL drawn over it
svg.append("g").attr("class", "cu")
  .selectAll("path").data(cuPoints).join("path")
  .attr("d", plusPath)
  .attr("transform", d => `translate(${x(d[0])},${y(d[1])})`)
  .attr("stroke", red).attr("stroke-width", 1.3).attr("fill", "none");

svg.append("g").attr("class", "jpl")
  .selectAll("path").data(jplPoints).join("path")
  .attr("d", crossPath)
  .attr("transform", d => `translate(${x(d[0])},${y(d[1])})`)
  .attr("stroke", blue).attr("stroke-width", 1.1).attr("fill", "none");

// Legend
const legend = svg.append("g");
legend.append("rect")
  .attr("x", 592).attr("y", 24.5).attr("width", 135).attr("height", 55.5)
  .attr("fill", "#fff").attr("stroke", frameColor).attr("stroke-width", 1.5);
const legendRows = [
  { name: seriesNames[0], path: plusPath, color: red, textX: 630, baseline: 45, markY: 38.5, width: 1.3 },
  { name: seriesNames[1], path: crossPath, color: blue, textX: 628, baseline: 73, markY: 66, width: 1.1 }
];
legendRows.forEach(r => {
  legend.append("text")
    .attr("x", r.textX).attr("y", r.baseline)
    .attr("text-anchor", "end").attr("font-size", 22).attr("fill", "#000")
    .text(r.name);
  legend.append("path")
    .attr("d", r.path).attr("transform", `translate(681.5,${r.markY})`)
    .attr("stroke", r.color).attr("stroke-width", r.width).attr("fill", "none");
});
</script>
</body>
</html>
